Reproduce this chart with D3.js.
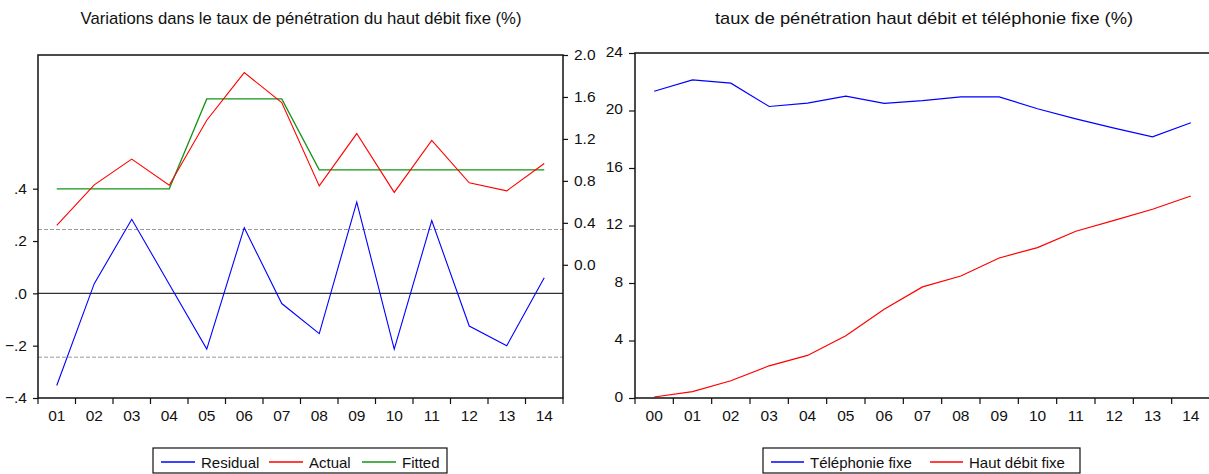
<!DOCTYPE html>
<html>
<head>
<meta charset="utf-8">
<script src="https://cdn.jsdelivr.net/npm/d3@7"></script>
<style>
  body { margin: 0; background: #fff; }
  text { font-family: "Liberation Sans", Arial, sans-serif; fill: #111; }
</style>
</head>
<body>
<svg id="canvas"></svg>
<script>
// left chart: residual / actual / fitted
const years1 = ["01","02","03","04","05","06","07","08","09","10","11","12","13","14"]
const residual = [-0.352, 0.037, 0.283, 0.035, -0.213, 0.251, -0.039, -0.154, 0.349, -0.213, 0.278, -0.125, -0.200, 0.060]
const actual = [0.375, 0.762, 1.007, 0.759, 1.378, 1.832, 1.547, 0.752, 1.251, 0.690, 1.185, 0.781, 0.705, 0.966]
const fitted = [0.724, 0.724, 0.724, 0.724, 1.581, 1.581, 1.581, 0.905, 0.905, 0.905, 0.905, 0.905, 0.905, 0.905]
const seBand = 0.244
const leftTicks = [-0.4, -0.2, 0, 0.2, 0.4]
const rightTicks = [0, 0.4, 0.8, 1.2, 1.6, 2.0]

// right chart
const years2 = ["00","01","02","03","04","05","06","07","08","09","10","11","12","13","14"]
const telephonie = [21.34, 22.13, 21.90, 20.28, 20.51, 21.00, 20.49, 20.69, 20.95, 20.95, 20.12, 19.42, 18.77, 18.17, 19.15]
const hautDebit = [0.07, 0.44, 1.20, 2.24, 2.96, 4.33, 6.18, 7.73, 8.49, 9.74, 10.46, 11.60, 12.36, 13.13, 14.05]
const ticks2 = [0, 4, 8, 12, 16, 20, 24]

const width = 1209
const height = 474
const fontSize = 15.5

const canvas = d3.select("#canvas").attr("width", width).attr("height", height)

const bandTicks = (g, x, y0, len) => {
  const edges = x.domain().map(d => x(d)).concat([x.range()[1]])
  g.selectAll("line.btick")
    .data(edges)
    .enter()
    .append("line")
    .attr("x1", d => d).attr("x2", d => d)
    .attr("y1", y0).attr("y2", y0 + len)
    .attr("stroke", "#111").attr("stroke-width", 1.2)
}

const styleAxis = (g) => {
  g.select(".domain").remove()
  g.selectAll(".tick line").attr("stroke", "#111").attr("stroke-width", 1.2)
  g.selectAll(".tick text").style("font-size", fontSize + "px").attr("font-family", null)
}

// ---------- left chart ----------
const L = { left: 38, right: 563, top: 55, bottom: 398 }

const x1 = d3.scaleBand().domain(years1).range([L.left, L.right])
const yL = d3.scaleLinear().domain([-0.4, 0.911]).range([L.bottom, L.top])
const yR = d3.scaleLinear().domain([-1.27, 2.0]).range([L.bottom, L.top])

const left = canvas.append("g")

left.append("text")
  .attr("x", 301).attr("y", 24)
  .attr("text-anchor", "middle")
  .attr("textLength", 441)
  .attr("lengthAdjust", "spacingAndGlyphs")
  .style("font-size", "17px")
  .text("Variations dans le taux de pénétration du haut débit fixe (%)")

// zero line and +/- std error band
left.append("line")
  .attr("x1", L.left).attr("x2", L.right)
  .attr("y1", yL(0)).attr("y2", yL(0))
  .attr("stroke", "#333").attr("stroke-width", 1.2)

left.selectAll("line.band")
  .data([seBand, -seBand])
  .enter()
  .append("line")
  .attr("x1", L.left).attr("x2", L.right)
  .attr("y1", d => yL(d)).attr("y2", d => yL(d))
  .attr("stroke", "#999").attr("stroke-width", 1)
  .attr("stroke-dasharray", "4,2")

const cx1 = (d, i) => x1(years1[i]) + x1.bandwidth() / 2

const lineL = d3.line().x(cx1).y(d => yL(d))
const lineR = d3.line().x(cx1).y(d => yR(d))

left.append("path").datum(fitted).attr("d", lineR)
  .attr("fill", "none").attr("stroke", "#149414").attr("stroke-width", 1.3)
left.append("path").datum(actual).attr("d", lineR)
  .attr("fill", "none").attr("stroke", "#ff0000").attr("stroke-width", 1.1)
left.append("path").datum(residual).attr("d", lineL)
  .attr("fill", "none").attr("stroke", "#0000ff").attr("stroke-width", 1.1)

// frame
left.append("rect")
  .attr("x", L.left).attr("y", L.top)
  .attr("width", L.right - L.left).attr("height", L.bottom - L.top)
  .attr("fill", "none").attr("stroke", "#111").attr("stroke-width", 1.5)

const yAxisL = d3.axisLeft(yL)
  .tickValues(leftTicks)
  .tickSize(5).tickPadding(6)
  .tickFormat(d => d3.format(".1f")(d).replace("0.", "."))
left.append("g")
  .attr("transform", "translate(" + L.left + ",0)")
  .call(yAxisL)
  .call(styleAxis)

const yAxisR = d3.axisRight(yR)
  .tickValues(rightTicks)
  .tickSize(5).tickPadding(6)
  .tickFormat(d3.format(".1f"))
left.append("g")
  .attr("transform", "translate(" + L.right + ",0)")
  .call(yAxisR)
  .call(styleAxis)

const xAxis1 = d3.axisBottom(x1).tickSize(0).tickPadding(12)
left.append("g")
  .attr("transform", "translate(0," + L.bottom + ")")
  .call(xAxis1)
  .call(styleAxis)
bandTicks(left, x1, L.bottom, 6)

// legend
const legend1 = left.append("g")
legend1.append("rect")
  .attr("x", 153).attr("y", 448).attr("width", 294).attr("height", 25)
  .attr("fill", "none").attr("stroke", "#111").attr("stroke-width", 1.2)
const items1 = [
  { name: "Residual", color: "#0000ff", x: 161 },
  { name: "Actual", color: "#ff0000", x: 269 },
  { name: "Fitted", color: "#149414", x: 362 }
]
items1.forEach(it => {
  legend1.append("line")
    .attr("x1", it.x).attr("x2", it.x + 34)
    .attr("y1", 462).attr("y2", 462)
    .attr("stroke", it.color).attr("stroke-width", 1.3)
  legend1.append("text")
    .attr("x", it.x + 40).attr("y", 467.5)
    .style("font-size", "15px")
    .text(it.name)
})

// ---------- right chart ----------
const R = { left: 635, right: 1210, top: 53, bottom: 398 }

const x2 = d3.scaleBand().domain(years2).range([R.left, R.right])
const y2 = d3.scaleLinear().domain([0, 24]).range([R.bottom, R.top])

const right = canvas.append("g")

right.append("text")
  .attr("x", 924).attr("y", 24)
  .attr("text-anchor", "middle")
  .attr("textLength", 418)
  .attr("lengthAdjust", "spacingAndGlyphs")
  .style("font-size", "17px")
  .text("taux de pénétration haut débit et téléphonie fixe (%)")

const cx2 = (d, i) => x2(years2[i]) + x2.bandwidth() / 2
const line2 = d3.line().x(cx2).y(d => y2(d))

right.append("path").datum(telephonie).attr("d", line2)
  .attr("fill", "none").attr("stroke", "#0000ff").attr("stroke-width", 1.2)
right.append("path").datum(hautDebit).attr("d", line2)
  .attr("fill", "none").attr("stroke", "#ff0000").attr("stroke-width", 1.2)

right.append("rect")
  .attr("x", R.left).attr("y", R.top)
  .attr("width", R.right - R.left).attr("height", R.bottom - R.top)
  .attr("fill", "none").attr("stroke", "#111").attr("stroke-width", 1.5)

const yAxis2 = d3.axisLeft(y2).tickValues(ticks2).tickSize(6).tickPadding(6)
right.append("g")
  .attr("transform", "translate(" + R.left + ",0)")
  .call(yAxis2)
  .call(styleAxis)
right.selectAll(".tick text").attr("dy", "0.2em")

const xAxis2 = d3.axisBottom(x2).tickSize(0).tickPadding(12)
right.append("g")
  .attr("transform", "translate(0," + R.bottom + ")")
  .call(xAxis2)
  .call(styleAxis)
bandTicks(right, x2, R.bottom, 6)

const legend2 = right.append("g")
legend2.append("rect")
  .attr("x", 763).attr("y", 448).attr("width", 317).attr("height", 25)
  .attr("fill", "none").attr("stroke", "#111").attr("stroke-width", 1.2)
const items2 = [
  { name: "Téléphonie fixe", color: "#0000ff", x: 771 },
  { name: "Haut débit fixe", color: "#ff0000", x: 930 }
]
items2.forEach(it => {
  legend2.append("line")
    .attr("x1", it.x).attr("x2", it.x + 33)
    .attr("y1", 462).attr("y2", 462)
    .attr("stroke", it.color).attr("stroke-width", 1.3)
  legend2.append("text")
    .attr("x", it.x + 39).attr("y", 467.5)
    .style("font-size", "15px")
    .text(it.name)
})
</script>
</body>
</html>
